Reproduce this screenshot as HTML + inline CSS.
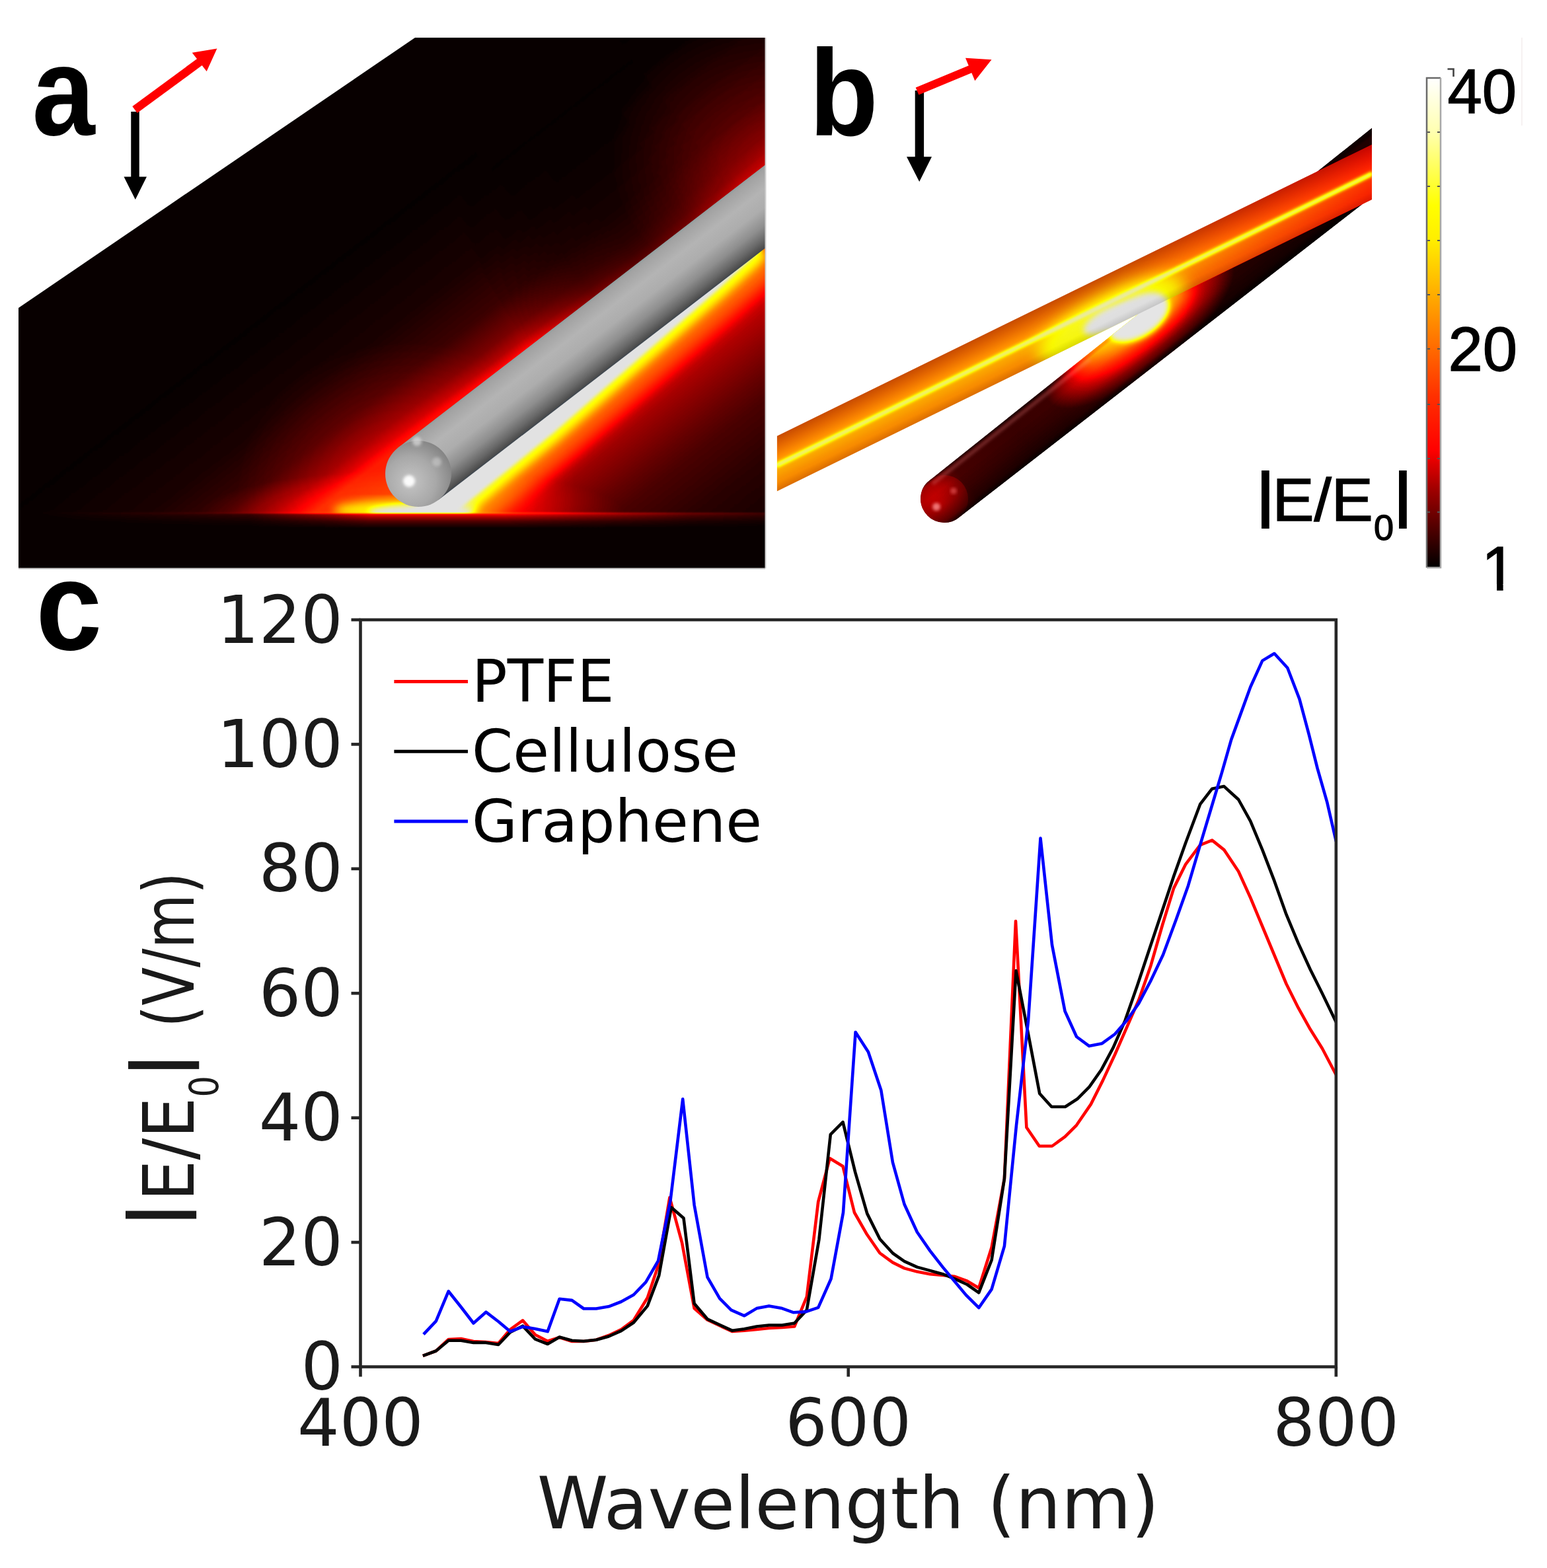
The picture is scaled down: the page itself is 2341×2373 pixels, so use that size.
<!DOCTYPE html>
<html><head><meta charset="utf-8"><title>Figure</title>
<style>html,body{margin:0;padding:0;background:#fff;} svg{display:block;}</style></head>
<body>
<svg width="2341" height="2373" viewBox="0 0 2341 2373">
<defs>
<filter id="cmap" x="0" y="0" width="1" height="1" color-interpolation-filters="sRGB">
  <feGaussianBlur stdDeviation="1.2"/>
  <feComponentTransfer>
    <feFuncR type="table" tableValues="0 1 1 1 0.89"/>
    <feFuncG type="table" tableValues="0 0 0.5 1 0.89"/>
    <feFuncB type="table" tableValues="0 0 0 0 0.89"/>
  </feComponentTransfer>
</filter>
<filter id="cmapB" color-interpolation-filters="sRGB">
  <feComponentTransfer>
    <feFuncR type="table" tableValues="0 1 1 1 0.9"/>
    <feFuncG type="table" tableValues="0 0 0.5 1 0.9"/>
    <feFuncB type="table" tableValues="0 0 0 0 0.9"/>
  </feComponentTransfer>
</filter>
<filter id="b2" x="-20%" y="-20%" width="140%" height="140%"><feGaussianBlur stdDeviation="2"/></filter>
<filter id="b4" x="-20%" y="-20%" width="140%" height="140%"><feGaussianBlur stdDeviation="4"/></filter>
<filter id="b7" x="-20%" y="-20%" width="140%" height="140%"><feGaussianBlur stdDeviation="7"/></filter>
<filter id="b12" x="-30%" y="-30%" width="160%" height="160%"><feGaussianBlur stdDeviation="12"/></filter>
<filter id="b20" x="-30%" y="-30%" width="160%" height="160%"><feGaussianBlur stdDeviation="20"/></filter>
</defs>
<rect width="2341" height="2373" fill="#fff"/>

<defs>
  <clipPath id="clipA"><polygon points="28,466 628,57 1158,57 1158,860 28,860"/></clipPath>
  <clipPath id="clipHz"><rect x="0" y="0" width="1160" height="777"/></clipPath>
  <clipPath id="clipBack"><polygon points="627.9,784.1 994.1,1259.4 439.6,1686.6 73.4,1211.3"/></clipPath>
  <linearGradient id="rodG" gradientUnits="userSpaceOnUse" x1="602.5" y1="677.4" x2="663.5" y2="756.6">
    <stop offset="0" stop-color="#8fa0a0"/>
    <stop offset="0.04" stop-color="#a2a2a2"/>
    <stop offset="0.28" stop-color="#b4b4b4"/>
    <stop offset="0.5" stop-color="#adadad"/>
    <stop offset="0.72" stop-color="#8e8e8e"/>
    <stop offset="0.88" stop-color="#686868"/>
    <stop offset="0.97" stop-color="#4e4e4e"/>
    <stop offset="1" stop-color="#3c4650"/>
  </linearGradient>
  <radialGradient id="capG" cx="0.38" cy="0.62" r="0.7">
    <stop offset="0" stop-color="#c4c4c4"/>
    <stop offset="0.55" stop-color="#a8a8a8"/>
    <stop offset="1" stop-color="#808080"/>
  </radialGradient>
  <linearGradient id="glowN" gradientUnits="userSpaceOnUse" spreadMethod="reflect" x1="627.9" y1="784.1" x2="872.0" y2="1100.9">
    <stop offset="0.000" stop-color="#fff" stop-opacity="0.23"/><stop offset="0.075" stop-color="#fff" stop-opacity="0.21"/><stop offset="0.163" stop-color="#fff" stop-opacity="0.185"/><stop offset="0.275" stop-color="#fff" stop-opacity="0.135"/><stop offset="0.375" stop-color="#fff" stop-opacity="0.095"/><stop offset="0.450" stop-color="#fff" stop-opacity="0.07"/><stop offset="0.625" stop-color="#fff" stop-opacity="0.038"/><stop offset="0.875" stop-color="#fff" stop-opacity="0.012"/><stop offset="1.000" stop-color="#fff" stop-opacity="0.0"/>
  </linearGradient>
  <linearGradient id="glowUL" gradientUnits="userSpaceOnUse" x1="627.9" y1="784.1" x2="383.7" y2="467.2">
    <stop offset="0.000" stop-color="#fff" stop-opacity="0.3"/><stop offset="0.250" stop-color="#fff" stop-opacity="0.25"/><stop offset="0.287" stop-color="#fff" stop-opacity="0.17"/><stop offset="0.338" stop-color="#fff" stop-opacity="0.115"/><stop offset="0.450" stop-color="#fff" stop-opacity="0.055"/><stop offset="0.625" stop-color="#fff" stop-opacity="0.022"/><stop offset="0.875" stop-color="#fff" stop-opacity="0.006"/><stop offset="1.000" stop-color="#fff" stop-opacity="0.0"/>
  </linearGradient>
  <linearGradient id="hzFade" x1="0" y1="0" x2="0" y2="1">
    <stop offset="0" stop-color="#fff" stop-opacity="0.3"/>
    <stop offset="0.25" stop-color="#fff" stop-opacity="0.17"/>
    <stop offset="0.55" stop-color="#fff" stop-opacity="0.07"/>
    <stop offset="1" stop-color="#fff" stop-opacity="0"/>
  </linearGradient>
  <linearGradient id="hzFadeM" x1="0" y1="0" x2="1" y2="0">
    <stop offset="0" stop-color="#000"/>
    <stop offset="0.31" stop-color="#333"/>
    <stop offset="0.42" stop-color="#aaa"/>
    <stop offset="0.47" stop-color="#fff"/>
    <stop offset="0.65" stop-color="#fff"/>
    <stop offset="0.77" stop-color="#aaa"/>
    <stop offset="0.9" stop-color="#555"/>
    <stop offset="1" stop-color="#333"/>
  </linearGradient>
  <mask id="hzMask" maskContentUnits="objectBoundingBox"><rect x="0" y="0" width="1" height="1" fill="url(#hzFadeM)"/></mask>
  <radialGradient id="glowR" gradientUnits="userSpaceOnUse" cx="627.9" cy="784.1" r="400">
    <stop offset="0.000" stop-color="#fff" stop-opacity="0.23"/><stop offset="0.075" stop-color="#fff" stop-opacity="0.21"/><stop offset="0.163" stop-color="#fff" stop-opacity="0.185"/><stop offset="0.275" stop-color="#fff" stop-opacity="0.135"/><stop offset="0.375" stop-color="#fff" stop-opacity="0.095"/><stop offset="0.450" stop-color="#fff" stop-opacity="0.07"/><stop offset="0.625" stop-color="#fff" stop-opacity="0.038"/><stop offset="0.875" stop-color="#fff" stop-opacity="0.012"/><stop offset="1.000" stop-color="#fff" stop-opacity="0.0"/>
  </radialGradient>
  <linearGradient id="ulMaskG" gradientUnits="userSpaceOnUse" x1="627.9" y1="784.1" x2="1182.4" y2="356.8">
    <stop offset="0" stop-color="#fff"/>
    <stop offset="0.42" stop-color="#fff"/>
    <stop offset="0.6" stop-color="#777"/>
    <stop offset="0.72" stop-color="#555"/>
    <stop offset="0.86" stop-color="#555"/>
    <stop offset="1" stop-color="#888"/>
  </linearGradient>
  <mask id="ulMask" maskUnits="userSpaceOnUse" x="0" y="0" width="1200" height="900"><rect x="0" y="0" width="1200" height="900" fill="url(#ulMaskG)"/></mask>
  <radialGradient id="tipG">
    <stop offset="0" stop-color="#fff" stop-opacity="0.09"/>
    <stop offset="0.5" stop-color="#fff" stop-opacity="0.045"/>
    <stop offset="1" stop-color="#fff" stop-opacity="0"/>
  </radialGradient>
  <radialGradient id="hazeG">
    <stop offset="0" stop-color="#fff" stop-opacity="0.08"/>
    <stop offset="0.5" stop-color="#fff" stop-opacity="0.045"/>
    <stop offset="1" stop-color="#fff" stop-opacity="0"/>
  </radialGradient>
  <radialGradient id="hzG">
    <stop offset="0" stop-color="#fff" stop-opacity="0.12"/>
    <stop offset="0.6" stop-color="#fff" stop-opacity="0.06"/>
    <stop offset="1" stop-color="#fff" stop-opacity="0"/>
  </radialGradient>
</defs>
<g clip-path="url(#clipA)">
 <g filter="url(#cmap)">
  <rect x="0" y="0" width="1160" height="870" fill="#020202"/>
  <rect x="28" y="776" width="1130" height="24" fill="url(#hzFade)" mask="url(#hzMask)"/>
  <g clip-path="url(#clipHz)">
    <ellipse cx="1170" cy="240" rx="260" ry="220" fill="url(#hazeG)"/>
    <ellipse cx="620" cy="780" rx="330" ry="70" fill="url(#hzG)"/>
    <polygon points="627.9,784.1 1376.4,207.3 1651.1,563.8 902.5,1140.5" fill="url(#glowN)"/>
    <polygon points="-201.3,854.8 1101.8,-149.2 1376.4,207.3 73.4,1211.3" fill="url(#glowUL)" mask="url(#ulMask)"/>
    <ellipse cx="615" cy="745" rx="260" ry="230" fill="url(#tipG)"/>
    <circle cx="627.9" cy="784.1" r="400" fill="url(#glowR)" clip-path="url(#clipBack)"/>
    <polygon filter="url(#b12)" fill="#fff" fill-opacity="0.3" points="600.7,789.8 656.2,747.1 814.6,625.0 973.0,503.0 1076.0,423.6 1147.3,368.7 1179.7,410.7 1113.3,471.9 1015.2,557.6 864.1,689.2 708.7,815.2 646.5,849.2"/>
    <polygon filter="url(#b7)" fill="#fff" fill-opacity="0.6" points="600.7,789.8 656.2,747.1 814.6,625.0 973.0,503.0 1076.0,423.6 1147.3,368.7 1162.0,387.7 1095.6,449.0 997.5,534.6 846.4,666.2 691.0,792.3 628.8,826.3"/>
    <ellipse cx="615" cy="772" rx="110" ry="16" fill="#fff" fill-opacity="0.55" filter="url(#b7)"/>
    <polygon filter="url(#b2)" fill="#fff" points="600.7,789.8 656.2,747.1 814.6,625.0 973.0,503.0 1076.0,423.6 1147.3,368.7 1153.4,376.6 1087.0,437.9 988.9,523.6 837.8,655.1 682.4,781.2 620.3,815.2"/>
    <ellipse cx="636" cy="775" rx="78" ry="11" fill="#fff" filter="url(#b4)"/>
  </g>
 </g>
  <polygon points="602.5,677.4 1315.4,128.1 1376.4,207.3 663.5,756.6" fill="url(#rodG)"/>
  <circle cx="633.0" cy="717.0" r="50.0" fill="url(#capG)"/>
  <circle cx="619.0" cy="728.0" r="9" fill="#fff" opacity="0.95" filter="url(#b2)"/>
  <circle cx="631.0" cy="668.0" r="7" fill="#ddd" opacity="0.7" filter="url(#b2)"/>
  <circle cx="661.0" cy="699.0" r="7" fill="#ccc" opacity="0.6" filter="url(#b2)"/>
</g>
<line x1="28" y1="860.5" x2="1158" y2="860.5" stroke="#c8c8c8" stroke-width="2"/>
<line x1="1158.5" y1="57" x2="1158.5" y2="860" stroke="#d0d0d0" stroke-width="2"/>


<defs>
  <clipPath id="clipB"><rect x="1175.7" y="0" width="900.3" height="870"/></clipPath>
  <clipPath id="clipRods"><polygon points="1175.7,659.9 2076.0,219.0 2076.0,302.0 1175.7,743.4"/><polygon points="1406.8,726.7 2100.0,174.5 2100.0,279.3 1451.2,783.3"/><circle cx="1429.0" cy="755.0" r="36.0"/></clipPath>
  <clipPath id="clipDark"><polygon points="1406.8,726.7 2100.0,174.5 2100.0,279.3 1451.2,783.3"/><circle cx="1429.0" cy="755.0" r="36.0"/></clipPath>
  <clipPath id="clipOr"><polygon points="1175.7,659.9 2076.0,219.0 2076.0,302.0 1175.7,743.4"/></clipPath>
  <linearGradient id="oG" gradientUnits="userSpaceOnUse" x1="1609.4" y1="447.4" x2="1642.3" y2="514.7"><stop offset="0" stop-color="#707070"/><stop offset="0.2" stop-color="#7a7a7a"/><stop offset="0.4" stop-color="#878787"/><stop offset="0.48" stop-color="#949494"/><stop offset="0.525" stop-color="#cccccc"/><stop offset="0.58" stop-color="#999999"/><stop offset="0.8" stop-color="#8a8a8a"/><stop offset="1" stop-color="#808080"/></linearGradient>
  <linearGradient id="oDark" gradientUnits="userSpaceOnUse" x1="1700" y1="0" x2="2076" y2="0">
    <stop offset="0" stop-color="#000" stop-opacity="0"/>
    <stop offset="1" stop-color="#000" stop-opacity="0.4"/>
  </linearGradient>
  <linearGradient id="dG" gradientUnits="userSpaceOnUse" x1="1429.0" y1="755.0" x2="2058.0" y2="260.6"><stop offset="0.000" stop-color="#1f1f1f"/><stop offset="0.050" stop-color="#111111"/><stop offset="0.188" stop-color="#0e0e0e"/><stop offset="0.275" stop-color="#0f0f0f"/><stop offset="0.350" stop-color="#141414"/><stop offset="0.425" stop-color="#141414"/><stop offset="0.525" stop-color="#0d0d0d"/><stop offset="0.750" stop-color="#0a0a0a"/><stop offset="1.000" stop-color="#080808"/></linearGradient>
  <linearGradient id="dShade" gradientUnits="userSpaceOnUse" x1="1406.8" y1="726.7" x2="1451.2" y2="783.3">
    <stop offset="0" stop-color="#000" stop-opacity="0.5"/>
    <stop offset="0.06" stop-color="#000" stop-opacity="0.0"/>
    <stop offset="0.3" stop-color="#000" stop-opacity="0.0"/>
    <stop offset="0.6" stop-color="#000" stop-opacity="0.2"/>
    <stop offset="0.88" stop-color="#000" stop-opacity="0.5"/>
    <stop offset="1" stop-color="#000" stop-opacity="0.85"/>
  </linearGradient>
  <linearGradient id="oShade" gradientUnits="userSpaceOnUse" x1="1609.4" y1="447.4" x2="1642.3" y2="514.7">
    <stop offset="0" stop-color="#000" stop-opacity="0.22"/>
    <stop offset="0.2" stop-color="#000" stop-opacity="0.1"/>
    <stop offset="0.4" stop-color="#000" stop-opacity="0"/>
    <stop offset="0.85" stop-color="#000" stop-opacity="0.03"/>
    <stop offset="1" stop-color="#000" stop-opacity="0.14"/>
  </linearGradient>
  <radialGradient id="dCap" cx="0.4" cy="0.62" r="0.65">
    <stop offset="0" stop-color="#363636"/>
    <stop offset="0.6" stop-color="#2b2b2b"/>
    <stop offset="1" stop-color="#1f1f1f"/>
  </radialGradient>
  <radialGradient id="hotR">
    <stop offset="0" stop-color="#fff" stop-opacity="0.3"/>
    <stop offset="0.5" stop-color="#fff" stop-opacity="0.22"/>
    <stop offset="0.8" stop-color="#fff" stop-opacity="0.1"/>
    <stop offset="1" stop-color="#fff" stop-opacity="0"/>
  </radialGradient>
</defs>
<g clip-path="url(#clipB)">
 <g filter="url(#cmapB)">
  <g clip-path="url(#clipDark)">
    <polygon points="1378.4,748.9 1406.8,726.7 2100.0,174.5 2100.0,279.3 1451.2,783.3 1422.9,805.6" fill="url(#dG)"/>
    <circle cx="1429.0" cy="755.0" r="36.0" fill="url(#dCap)"/>
    <ellipse cx="1725" cy="500" rx="175" ry="62" transform="rotate(-38 1725 500)" fill="url(#hotR)"/>
    <ellipse cx="1700" cy="512" rx="90" ry="26" transform="rotate(-36 1700 512)" fill="#fff" fill-opacity="0.12" filter="url(#b12)"/>
    <polygon points="1378.4,748.9 1406.8,726.7 2100.0,174.5 2100.0,279.3 1451.2,783.3 1422.9,805.6" fill="url(#dShade)"/>
  </g>
  <polygon points="1175.7,659.9 2076.0,219.0 2076.0,302.0 1175.7,743.4" fill="url(#oG)"/>
  <polygon points="1175.7,659.9 2076.0,219.0 2076.0,302.0 1175.7,743.4" fill="url(#oDark)"/>
  <polygon points="1175.7,700.4 2076.0,259.3 2076.0,266.7 1175.7,707.9" fill="#dedede" filter="url(#b2)"/>
  <g clip-path="url(#clipRods)">
    <ellipse cx="1682" cy="486" rx="125" ry="40" transform="rotate(-27 1682 486)" fill="#fff" fill-opacity="0.5" filter="url(#b12)"/>
    <ellipse cx="1722" cy="480" rx="52" ry="30" transform="rotate(-32 1722 480)" fill="#fff" filter="url(#b4)"/>
    <ellipse cx="1680" cy="482" rx="45" ry="16" transform="rotate(-27 1680 482)" fill="#fff" filter="url(#b4)"/>
  </g>
 </g>
  <line x1="1411.1" y1="732.2" x2="1650" y2="543.5" stroke="#ff9090" stroke-opacity="0.28" stroke-width="5" filter="url(#b2)" clip-path="url(#clipDark)"/>
  <polygon points="1175.7,659.9 2076.0,219.0 2076.0,302.0 1175.7,743.4" fill="url(#oShade)"/>
  <circle cx="1417.0" cy="767.0" r="6" fill="#ff9090" opacity="0.8" filter="url(#b2)"/>
  <circle cx="1443.0" cy="743.0" r="5" fill="#ff7070" opacity="0.5" filter="url(#b2)"/>
</g>


<line x1="204.5" y1="169" x2="204.5" y2="270" stroke="#000" stroke-width="12.5"/>
<polygon points="187.5,267.5 222,267.5 204.8,302" fill="#000"/>
<line x1="204" y1="166" x2="306" y2="91" stroke="#f00" stroke-width="12.5"/>
<polygon points="290.7,79.7 328.4,73.5 312.7,108" fill="#f00"/>
<line x1="1391.4" y1="137" x2="1391.4" y2="240" stroke="#000" stroke-width="13.4"/>
<polygon points="1372,237.2 1410,237.2 1391.2,275" fill="#000"/>
<line x1="1388" y1="138" x2="1476" y2="101.5" stroke="#f00" stroke-width="12"/>
<polygon points="1461,87.8 1500.5,90.3 1475.3,122.2" fill="#f00"/>


<defs>
  <linearGradient id="cbG" x1="0" y1="0" x2="0" y2="1">
    <stop offset="0" stop-color="#ffffff"/>
    <stop offset="0.11" stop-color="#ffffb0"/>
    <stop offset="0.26" stop-color="#ffff00"/>
    <stop offset="0.33" stop-color="#ffee00"/>
    <stop offset="0.41" stop-color="#ffc000"/>
    <stop offset="0.49" stop-color="#ff9000"/>
    <stop offset="0.57" stop-color="#ff6000"/>
    <stop offset="0.65" stop-color="#ff3000"/>
    <stop offset="0.76" stop-color="#ff0000"/>
    <stop offset="0.84" stop-color="#a00000"/>
    <stop offset="0.92" stop-color="#500000"/>
    <stop offset="1" stop-color="#000000"/>
  </linearGradient>
</defs>
<rect x="2159" y="118" width="21" height="741" fill="url(#cbG)"/>
<path d="M2159,859 V118 H2180" fill="none" stroke="#6a6a6a" stroke-width="2.5"/>
<path d="M2180,118 V859 H2159" fill="none" stroke="#a8a8a8" stroke-width="2.5"/>
<line x1="2160" y1="200" x2="2164" y2="200" stroke="#555" stroke-width="2"/><line x1="2175" y1="200" x2="2179" y2="200" stroke="#555" stroke-width="2"/><line x1="2160" y1="282" x2="2164" y2="282" stroke="#555" stroke-width="2"/><line x1="2175" y1="282" x2="2179" y2="282" stroke="#555" stroke-width="2"/><line x1="2160" y1="364" x2="2164" y2="364" stroke="#555" stroke-width="2"/><line x1="2175" y1="364" x2="2179" y2="364" stroke="#555" stroke-width="2"/><line x1="2160" y1="446" x2="2164" y2="446" stroke="#555" stroke-width="2"/><line x1="2175" y1="446" x2="2179" y2="446" stroke="#555" stroke-width="2"/><line x1="2160" y1="528" x2="2164" y2="528" stroke="#555" stroke-width="2"/><line x1="2175" y1="528" x2="2179" y2="528" stroke="#555" stroke-width="2"/><line x1="2160" y1="612" x2="2164" y2="612" stroke="#555" stroke-width="2"/><line x1="2175" y1="612" x2="2179" y2="612" stroke="#555" stroke-width="2"/><line x1="2160" y1="694" x2="2164" y2="694" stroke="#555" stroke-width="2"/><line x1="2175" y1="694" x2="2179" y2="694" stroke="#555" stroke-width="2"/><line x1="2160" y1="775" x2="2164" y2="775" stroke="#555" stroke-width="2"/><line x1="2175" y1="775" x2="2179" y2="775" stroke="#555" stroke-width="2"/>

<defs>
  <clipPath id="clip1"><rect x="2200" y="780" width="141" height="104"/><rect x="2265.1" y="780" width="9.5" height="120"/></clipPath>
</defs>
<g fill="#000" stroke="#000" stroke-width="1.4">
<polyline points="2190.5,104.5 2199.5,104.5 2199.5,116" fill="none" stroke="#444" stroke-width="2.6"/>
<line x1="2303" y1="57" x2="2303" y2="190" stroke="#f6f1f1" stroke-width="2"/>
<text x="2190.5" y="170.5" font-family="Liberation Sans, Arial, sans-serif" font-size="94">40</text>
<text x="2191.5" y="560.5" font-family="Liberation Sans, Arial, sans-serif" font-size="94">20</text>
<text x="2241.9" y="893.2" font-family="Liberation Sans, Arial, sans-serif" font-size="94" clip-path="url(#clip1)">1</text>
<text x="1902.1" y="778.7" font-family="Liberation Sans, Arial, sans-serif" font-size="92" font-weight="bold" stroke-width="0">|</text>
<text x="0" y="0" transform="translate(1925.5 788.2) scale(1.045 1)" font-family="Liberation Sans, Arial, sans-serif" font-size="90.5">E/E</text>
<text x="2078.9" y="816.5" font-family="Liberation Sans, Arial, sans-serif" font-size="54">0</text>
<text x="2110.1" y="778.7" font-family="Liberation Sans, Arial, sans-serif" font-size="92" font-weight="bold" stroke-width="0">|</text>
</g>


<g fill="#000" font-family="Liberation Sans, Arial, sans-serif" font-weight="bold">
<text x="0" y="0" transform="translate(48.6 203.5) scale(1 1.113)" font-size="171">a</text>
<text x="0" y="0" transform="translate(1224.5 205) scale(1 1.09)" font-size="171">b</text>
<text x="0" y="0" transform="translate(54.2 983) scale(1 1.065)" font-size="180">c</text>
</g>

<g font-family="DejaVu Sans, sans-serif" fill="#1a1a1a"><polyline points="639.9,2051.8 659.8,2044.5 678.7,2027.0 697.6,2026.0 716.5,2030.0 735.4,2031.0 754.2,2033.0 772.1,2012.0 791.0,1998.3 809.9,2020.0 828.7,2029.8 846.6,2024.0 865.5,2030.0 883.3,2030.0 902.2,2027.7 921.1,2021.0 940.0,2012.0 958.9,1998.0 979.8,1964.0 996.0,1915.5 1013.4,1812.4 1032.0,1880.7 1050.6,1980.1 1070.5,1997.5 1089.1,2006.2 1107.8,2014.9 1126.4,2013.7 1145.0,2012.0 1163.7,2010.0 1183.5,2009.0 1202.2,2007.5 1220.8,1962.7 1238.2,1818.6 1255.7,1753.0 1275.4,1765.0 1292.9,1835.0 1312.0,1868.3 1331.5,1896.5 1350.9,1910.6 1368.5,1919.4 1387.9,1924.6 1407.3,1928.2 1426.6,1929.9 1444.2,1931.7 1463.6,1938.7 1481.2,1949.3 1500.6,1887.7 1519.9,1783.8 1537.0,1394.0 1553.4,1706.3 1572.7,1734.5 1592.1,1734.5 1611.5,1720.4 1629.1,1702.8 1650.8,1671.1 1669.0,1634.9 1687.1,1596.0 1705.2,1554.6 1723.3,1513.2 1741.4,1461.4 1759.0,1400.0 1776.2,1344.1 1794.3,1307.8 1816.1,1278.8 1834.2,1271.6 1852.3,1286.1 1874.1,1318.7 1892.2,1358.5 1910.3,1402.0 1928.4,1445.5 1946.5,1489.0 1964.6,1525.2 1982.8,1557.8 2000.9,1586.8 2021.9,1626.7" fill="none" stroke="#ff0000" stroke-width="4.6" stroke-linejoin="round"/><polyline points="639.9,2051.8 659.8,2044.5 678.7,2028.7 697.6,2028.7 716.5,2031.9 735.4,2031.9 754.2,2035.0 772.1,2016.2 791.0,2006.7 809.9,2026.6 828.7,2034.0 846.6,2023.5 865.5,2028.7 883.3,2029.8 902.2,2027.7 921.1,2022.5 940.0,2014.1 958.9,2001.5 979.8,1976.4 997.2,1930.4 1015.8,1827.3 1034.5,1843.5 1050.6,1972.7 1070.5,1996.3 1089.1,2005.0 1107.8,2013.7 1126.4,2011.2 1145.0,2007.5 1163.7,2005.5 1183.5,2005.5 1202.2,2002.5 1220.8,1982.6 1239.4,1875.8 1256.8,1716.8 1275.5,1698.1 1294.1,1773.9 1312.2,1836.6 1331.5,1875.3 1350.9,1896.5 1368.5,1908.8 1387.9,1917.6 1407.3,1922.9 1426.6,1928.2 1444.2,1935.2 1463.6,1944.0 1481.2,1956.3 1500.6,1907.0 1519.9,1783.8 1537.5,1469.0 1555.1,1560.0 1573.2,1655.0 1591.3,1675.0 1612.0,1675.0 1630.1,1663.3 1648.2,1645.2 1666.4,1619.3 1684.5,1585.7 1702.6,1544.3 1720.7,1492.5 1738.8,1438.1 1758.1,1380.3 1776.2,1326.0 1794.3,1275.2 1816.1,1217.2 1834.2,1193.7 1852.3,1190.1 1874.1,1210.0 1892.2,1242.6 1910.3,1286.1 1928.4,1333.2 1946.5,1383.9 1964.6,1427.4 1982.8,1467.3 2000.9,1503.5 2021.9,1547.0" fill="none" stroke="#000000" stroke-width="4.6" stroke-linejoin="round"/><polyline points="640.9,2019.3 659.8,1999.4 678.7,1954.2 697.6,1978.0 716.5,2002.5 735.4,1985.7 754.2,2000.0 772.0,2015.1 791.0,2007.8 809.9,2011.0 828.7,2015.1 846.6,1965.8 865.5,1967.9 883.3,1980.5 902.2,1980.5 921.1,1977.3 940.0,1970.0 958.9,1959.5 977.3,1940.4 996.0,1908.1 1014.6,1816.2 1033.2,1663.4 1050.6,1823.6 1070.5,1932.9 1089.1,1965.2 1106.5,1982.6 1126.4,1991.3 1145.0,1980.1 1163.7,1976.4 1183.5,1980.1 1200.9,1986.3 1219.6,1985.1 1238.2,1978.9 1257.6,1935.2 1276.0,1835.0 1294.6,1562.0 1313.9,1591.9 1333.3,1650.0 1350.9,1759.2 1368.5,1822.5 1387.9,1864.8 1407.3,1892.9 1426.6,1917.6 1444.2,1938.7 1461.8,1959.9 1481.2,1979.2 1500.6,1951.1 1519.9,1885.9 1538.0,1703.0 1556.0,1545.0 1574.5,1268.6 1592.0,1430.0 1611.5,1530.3 1629.1,1569.0 1648.2,1583.1 1667.7,1579.2 1687.1,1565.0 1705.2,1544.3 1723.3,1518.4 1741.0,1485.0 1760.0,1445.0 1779.9,1391.2 1798.0,1340.4 1816.1,1278.8 1832.4,1224.5 1848.7,1170.1 1863.2,1119.4 1877.7,1079.6 1892.2,1039.7 1910.3,999.9 1928.4,989.0 1948.3,1010.7 1966.4,1057.8 1980.9,1112.2 1993.6,1162.9 2008.1,1213.6 2021.9,1273.4" fill="none" stroke="#0000ff" stroke-width="4.6" stroke-linejoin="round"/><rect x="545.5" y="938.0" width="1476.3" height="1130.5" fill="none" stroke="#262626" stroke-width="4.6"/><line x1="531.5" y1="2068.5" x2="545.5" y2="2068.5" stroke="#262626" stroke-width="4.6"/><text x="519" y="2103.0" font-size="100" text-anchor="end">0</text><line x1="531.5" y1="1880.1" x2="545.5" y2="1880.1" stroke="#262626" stroke-width="4.6"/><text x="519" y="1914.6" font-size="100" text-anchor="end">20</text><line x1="531.5" y1="1691.7" x2="545.5" y2="1691.7" stroke="#262626" stroke-width="4.6"/><text x="519" y="1726.2" font-size="100" text-anchor="end">40</text><line x1="531.5" y1="1503.2" x2="545.5" y2="1503.2" stroke="#262626" stroke-width="4.6"/><text x="519" y="1537.8" font-size="100" text-anchor="end">60</text><line x1="531.5" y1="1314.8" x2="545.5" y2="1314.8" stroke="#262626" stroke-width="4.6"/><text x="519" y="1349.3" font-size="100" text-anchor="end">80</text><line x1="531.5" y1="1126.4" x2="545.5" y2="1126.4" stroke="#262626" stroke-width="4.6"/><text x="519" y="1160.9" font-size="100" text-anchor="end">100</text><line x1="531.5" y1="938.0" x2="545.5" y2="938.0" stroke="#262626" stroke-width="4.6"/><text x="519" y="972.5" font-size="100" text-anchor="end">120</text><line x1="545.5" y1="2068.5" x2="545.5" y2="2083.5" stroke="#262626" stroke-width="4.6"/><text x="545.5" y="2187.5" font-size="100" text-anchor="middle">400</text><line x1="1283.7" y1="2068.5" x2="1283.7" y2="2083.5" stroke="#262626" stroke-width="4.6"/><text x="1283.7" y="2187.5" font-size="100" text-anchor="middle">600</text><line x1="2021.8" y1="2068.5" x2="2021.8" y2="2083.5" stroke="#262626" stroke-width="4.6"/><text x="2021.8" y="2187.5" font-size="100" text-anchor="middle">800</text><text x="1283.6" y="2312.8" font-size="109" text-anchor="middle">Wavelength (nm)</text><g transform="translate(293 0) rotate(-90)" fill="#1a1a1a"><text x="-1857.9" y="-22" font-size="107" font-weight="bold">|</text><text transform="translate(-1817.4 0) scale(0.915 1)" font-size="107">E/E</text><text transform="translate(-1660.4 36.5) scale(0.836 1)" font-size="61">0</text><text x="-1631.4" y="-18" font-size="107" font-weight="bold">|</text><text transform="translate(-1554.8 0) scale(0.791 1)" font-size="107">(V/m)</text></g><line x1="596.4" y1="1031.5" x2="708" y2="1031.5" stroke="#ff0000" stroke-width="5"/><text x="714" y="1062.0" font-size="89" fill="#000">PTFE</text><line x1="596.4" y1="1137.3" x2="708" y2="1137.3" stroke="#000000" stroke-width="5"/><text x="714" y="1167.8" font-size="89" fill="#000">Cellulose</text><line x1="596.4" y1="1243.1" x2="708" y2="1243.1" stroke="#0000ff" stroke-width="5"/><text x="714" y="1273.6" font-size="89" fill="#000">Graphene</text></g>
</svg>
</body></html>
